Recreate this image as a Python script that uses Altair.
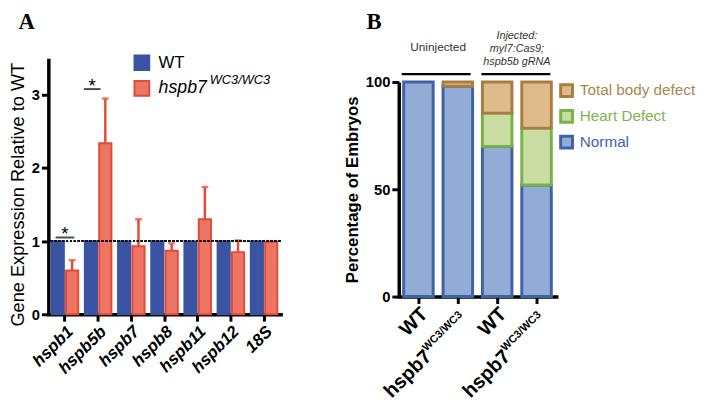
import altair as alt
import pandas as pd

# ---------------- data ----------------
genes = ["hspb1", "hspb5b", "hspb7", "hspb8", "hspb11", "hspb12", "18S"]
groups = ["WT", "hspb7"]
wt_values = [1.0, 1.0, 1.0, 1.0, 1.0, 1.0, 1.0]
mut_values = [0.60, 2.34, 0.93, 0.87, 1.30, 0.85, 0.99]
mut_err_top = [0.74, 2.95, 1.30, 0.97, 1.74, 1.01, 1.00]
sig_genes = ["hspb1", "hspb5b"]
sig_heights = [1.05, 3.08]

b_groups = ["u_wt", "u_mut", "i_wt", "i_mut"]
b_main = ["WT", "hspb7", "WT", "hspb7"]
b_sup = ["", "WC3/WC3", "", "WC3/WC3"]
categories = ["Normal", "Heart Defect", "Total body defect"]
normal = [100, 98, 70, 52]
heart = [0, 0, 15.5, 26.5]
total = [0, 2, 14.5, 21.5]
panel_letters = ["A", "B"]

# ---------------- styles ----------------
FONT = "Liberation Sans"
BLUE = "#3a54a3"
SALMON = "#ec7563"
RED = "#e34a3b"
fills = ["#92acd6", "#c9dda3", "#dfbb8c"]
strokes = ["#3f63a6", "#7ab148", "#a97c3f"]
text_cols = ["#3d64a8", "#7fb350", "#a98650"]

letter_df = pd.DataFrame({"letter": panel_letters})

# ---------------- panel A ----------------
dfA = pd.DataFrame({
    "gene": genes * 2,
    "group": ["WT"] * len(genes) + ["hspb7"] * len(genes),
    "value": wt_values + mut_values,
})
dfErr = pd.DataFrame({"gene": genes, "group": "hspb7", "value": mut_values, "top": mut_err_top})
dfSig = pd.DataFrame({"gene": sig_genes, "y": sig_heights})
legA = pd.DataFrame({"group": groups, "ly": [3.44 - 0.35 * i for i in range(2)]})

xA = alt.X("gene:N", sort=genes,
           scale=alt.Scale(domain=genes, paddingInner=0.2, paddingOuter=0.1),
           axis=alt.Axis(title=None, labelAngle=315, labelFont=FONT, labelFontSize=17,
                         labelFontWeight="bold", labelFontStyle="italic", labelColor="black",
                         labelPadding=2, tickSize=7, tickWidth=3, tickColor="black",
                         domainWidth=3.5, domainColor="black", domainCap="square", grid=False))
xoffA = alt.XOffset("group:N", scale=alt.Scale(domain=groups, paddingInner=0.15))
yA = alt.Y("value:Q", scale=alt.Scale(domain=[0, 3.5]),
           axis=alt.Axis(values=[0, 1, 2, 3], format="d", title="Gene Expression Relative to WT",
                         titleFont=FONT, titleFontSize=18.5, titleFontWeight="normal", titleColor="black",
                         titlePadding=4, titleY=138, labelFont=FONT, labelFontSize=15, labelFontWeight="bold",
                         labelColor="black", labelPadding=2, tickSize=7, tickWidth=3, tickColor="black",
                         domainWidth=3.5, domainColor="black", grid=False))
colA = alt.Color("group:N", scale=alt.Scale(domain=groups, range=[BLUE, SALMON]), legend=None)
strA = alt.Stroke("group:N", scale=alt.Scale(domain=groups, range=[BLUE, RED]), legend=None)

barsA = alt.Chart(dfA).mark_bar(strokeWidth=2).encode(x=xA, xOffset=xoffA, y=yA, color=colA, stroke=strA)
errA = alt.Chart(dfErr).mark_rule(color=RED, strokeWidth=2.5).encode(
    x=xA, xOffset=xoffA, y=alt.Y("value:Q"), y2="top:Q")
capA = alt.Chart(dfErr).mark_tick(color=RED, thickness=2.5, size=7).encode(
    x=xA, xOffset=xoffA, y=alt.Y("top:Q"))
dotA = alt.Chart(dfA).mark_rule(color="#111", strokeWidth=1.8, strokeDash=[2, 2]).encode(y=alt.datum(1))
sig1 = alt.Chart(dfSig).transform_filter(alt.datum.gene == "hspb1").mark_tick(
    color="black", thickness=2, size=19).encode(x=xA, y=alt.Y("y:Q"))
sig2 = alt.Chart(dfSig).transform_filter(alt.datum.gene == "hspb5b").mark_tick(
    color="black", thickness=2, size=17, xOffset=-6).encode(x=xA, y=alt.Y("y:Q"))
star1 = alt.Chart(dfSig).transform_filter(alt.datum.gene == "hspb1").mark_text(
    text="*", font=FONT, fontSize=19, dy=-3, color="black").encode(x=xA, y=alt.Y("y:Q"))
star2 = alt.Chart(dfSig).transform_filter(alt.datum.gene == "hspb5b").mark_text(
    text="*", font=FONT, fontSize=19, dy=-3, dx=-6, color="black").encode(x=xA, y=alt.Y("y:Q"))

legA_sq = alt.Chart(legA).mark_square(size=225, strokeWidth=2, opacity=1).encode(
    x=alt.value(95), y=alt.Y("ly:Q"), color=colA, stroke=strA)
legA_wt = alt.Chart(legA).transform_filter(alt.datum.group == "WT").mark_text(
    align="left", baseline="middle", font=FONT, fontSize=17, color="black").encode(
    x=alt.value(112), y=alt.Y("ly:Q"), text="group:N")
legA_mut = alt.Chart(legA).transform_filter(alt.datum.group == "hspb7").mark_text(
    align="left", baseline="middle", font=FONT, fontSize=18, fontStyle="italic", color="black").encode(
    x=alt.value(112), y=alt.Y("ly:Q"), text="group:N")
legA_sup = alt.Chart(legA).transform_filter(alt.datum.group == "hspb7").mark_text(
    text="WC3/WC3", align="left", baseline="middle", font=FONT, fontSize=13, fontStyle="italic",
    color="black", dy=-8).encode(x=alt.value(164), y=alt.Y("ly:Q"))
letterA = alt.Chart(letter_df).transform_filter(alt.datum.letter == "A").mark_text(
    font="Liberation Serif", fontSize=23, fontWeight="bold", color="black", baseline="middle").encode(
    x=alt.value(-22), y=alt.value(-37), text="letter:N")

panelA = alt.layer(barsA, errA, capA, dotA, sig1, sig2, star1, star2,
                   legA_sq, legA_wt, legA_mut, legA_sup, letterA).properties(width=236, height=260)

# ---------------- panel B ----------------
rowsB = []
for g, n, h, t in zip(b_groups, normal, heart, total):
    for cat, v, o in zip(categories, [n, h, t], [0, 1, 2]):
        if v > 0:
            rowsB.append({"group": g, "category": cat, "value": v, "order": o})
dfB = pd.DataFrame(rowsB)
labB = pd.DataFrame({"group": b_groups, "main": b_main, "sup": b_sup})
legB = pd.DataFrame({"category": categories[::-1], "ly": [96.0 - 12.0 * i for i in range(3)]})

xB = alt.X("group:N", sort=b_groups,
           scale=alt.Scale(domain=b_groups, paddingInner=0.25, paddingOuter=0.125),
           axis=alt.Axis(title=None, labels=False, tickSize=7, tickWidth=3, tickColor="black",
                         domainWidth=3.5, domainColor="black", domainCap="square", grid=False))
yB = alt.Y("value:Q", stack="zero", scale=alt.Scale(domain=[0, 100], range=[242, 24]),
           axis=alt.Axis(values=[0, 50, 100], title="Percentage of Embryos", titleFont=FONT,
                         titleFontSize=17, titleFontWeight="bold", titleColor="black", titlePadding=4,
                         labelFont=FONT, labelFontSize=15, labelFontWeight="bold", labelColor="black",
                         labelPadding=2, tickSize=7, tickWidth=3, tickColor="black",
                         domainWidth=3.5, domainColor="black", grid=False))
colB = alt.Color("category:N", scale=alt.Scale(domain=categories, range=fills), legend=None)
strB = alt.Stroke("category:N", scale=alt.Scale(domain=categories, range=strokes), legend=None)

barsB = alt.Chart(dfB).mark_bar(strokeWidth=3).encode(
    x=xB, y=yB, color=colB, stroke=strB, order=alt.Order("order:Q"))

labWT = alt.Chart(labB).transform_filter(alt.datum.main == "WT").mark_text(
    angle=315, align="right", baseline="middle", font=FONT, fontSize=20, fontWeight="bold",
    color="black", dx=-6, dy=15).encode(x=xB, y=alt.datum(0), text="main:N")
labMut = alt.Chart(labB).transform_filter(alt.datum.main == "hspb7").mark_text(
    angle=315, align="right", baseline="middle", font=FONT, fontSize=20, fontWeight="bold",
    color="black", dx=-62, dy=20).encode(x=xB, y=alt.datum(0), text="main:N")
labSup = alt.Chart(labB).transform_filter(alt.datum.main == "hspb7").mark_text(
    angle=315, align="right", baseline="middle", font=FONT, fontSize=11, fontWeight="bold",
    color="black", dx=-10, dy=14).encode(x=xB, y=alt.datum(0), text="sup:N")

legB_sq = alt.Chart(legB).mark_square(size=144, strokeWidth=3, opacity=1).encode(
    x=alt.value(170.5), y=alt.Y("ly:Q"), color=colB, stroke=strB)
legB_tx = alt.Chart(legB).mark_text(align="left", baseline="middle", font=FONT, fontSize=15.5).encode(
    x=alt.value(184), y=alt.Y("ly:Q"), text="category:N",
    fill=alt.Fill("category:N", scale=alt.Scale(domain=categories, range=text_cols), legend=None))

hdr1 = alt.Chart(letter_df).transform_filter(alt.datum.letter == "B").mark_text(
    text="Uninjected", font=FONT, fontSize=12, fontWeight="normal", color="#333",
    baseline="middle").encode(x=alt.value(40), y=alt.value(-11))
hdr2 = alt.Chart(letter_df).transform_filter(alt.datum.letter == "B").mark_text(
    text=["Injected:", "myl7:Cas9;", "hspb5b gRNA"], font=FONT, fontSize=11, fontWeight="normal",
    fontStyle="italic", color="#333", lineHeight=13.5, baseline="middle").encode(
    x=alt.value(120), y=alt.value(-23))
line1 = alt.Chart(letter_df).transform_filter(alt.datum.letter == "B").mark_rule(
    color="black", strokeWidth=2.5).encode(x=alt.value(3), x2=alt.value(73), y=alt.value(16))
line2 = alt.Chart(letter_df).transform_filter(alt.datum.letter == "B").mark_rule(
    color="black", strokeWidth=2.5).encode(x=alt.value(84), x2=alt.value(154), y=alt.value(16))
letterB = alt.Chart(letter_df).transform_filter(alt.datum.letter == "B").mark_text(
    font="Liberation Serif", fontSize=23, fontWeight="bold", color="black", baseline="middle").encode(
    x=alt.value(-25), y=alt.value(-37), text="letter:N")

panelB = alt.layer(barsB, labWT, labMut, labSup, legB_sq, legB_tx, hdr1, hdr2, line1, line2,
                   letterB).properties(width=160, height=242)

chart = (alt.hconcat(panelA, panelB, spacing=62)
         .resolve_scale(color="independent", stroke="independent", fill="independent")
         .properties(padding=0)
         .configure_view(stroke=None))

chart.save("out.html", embed_options={"renderer": "svg", "actions": False})
